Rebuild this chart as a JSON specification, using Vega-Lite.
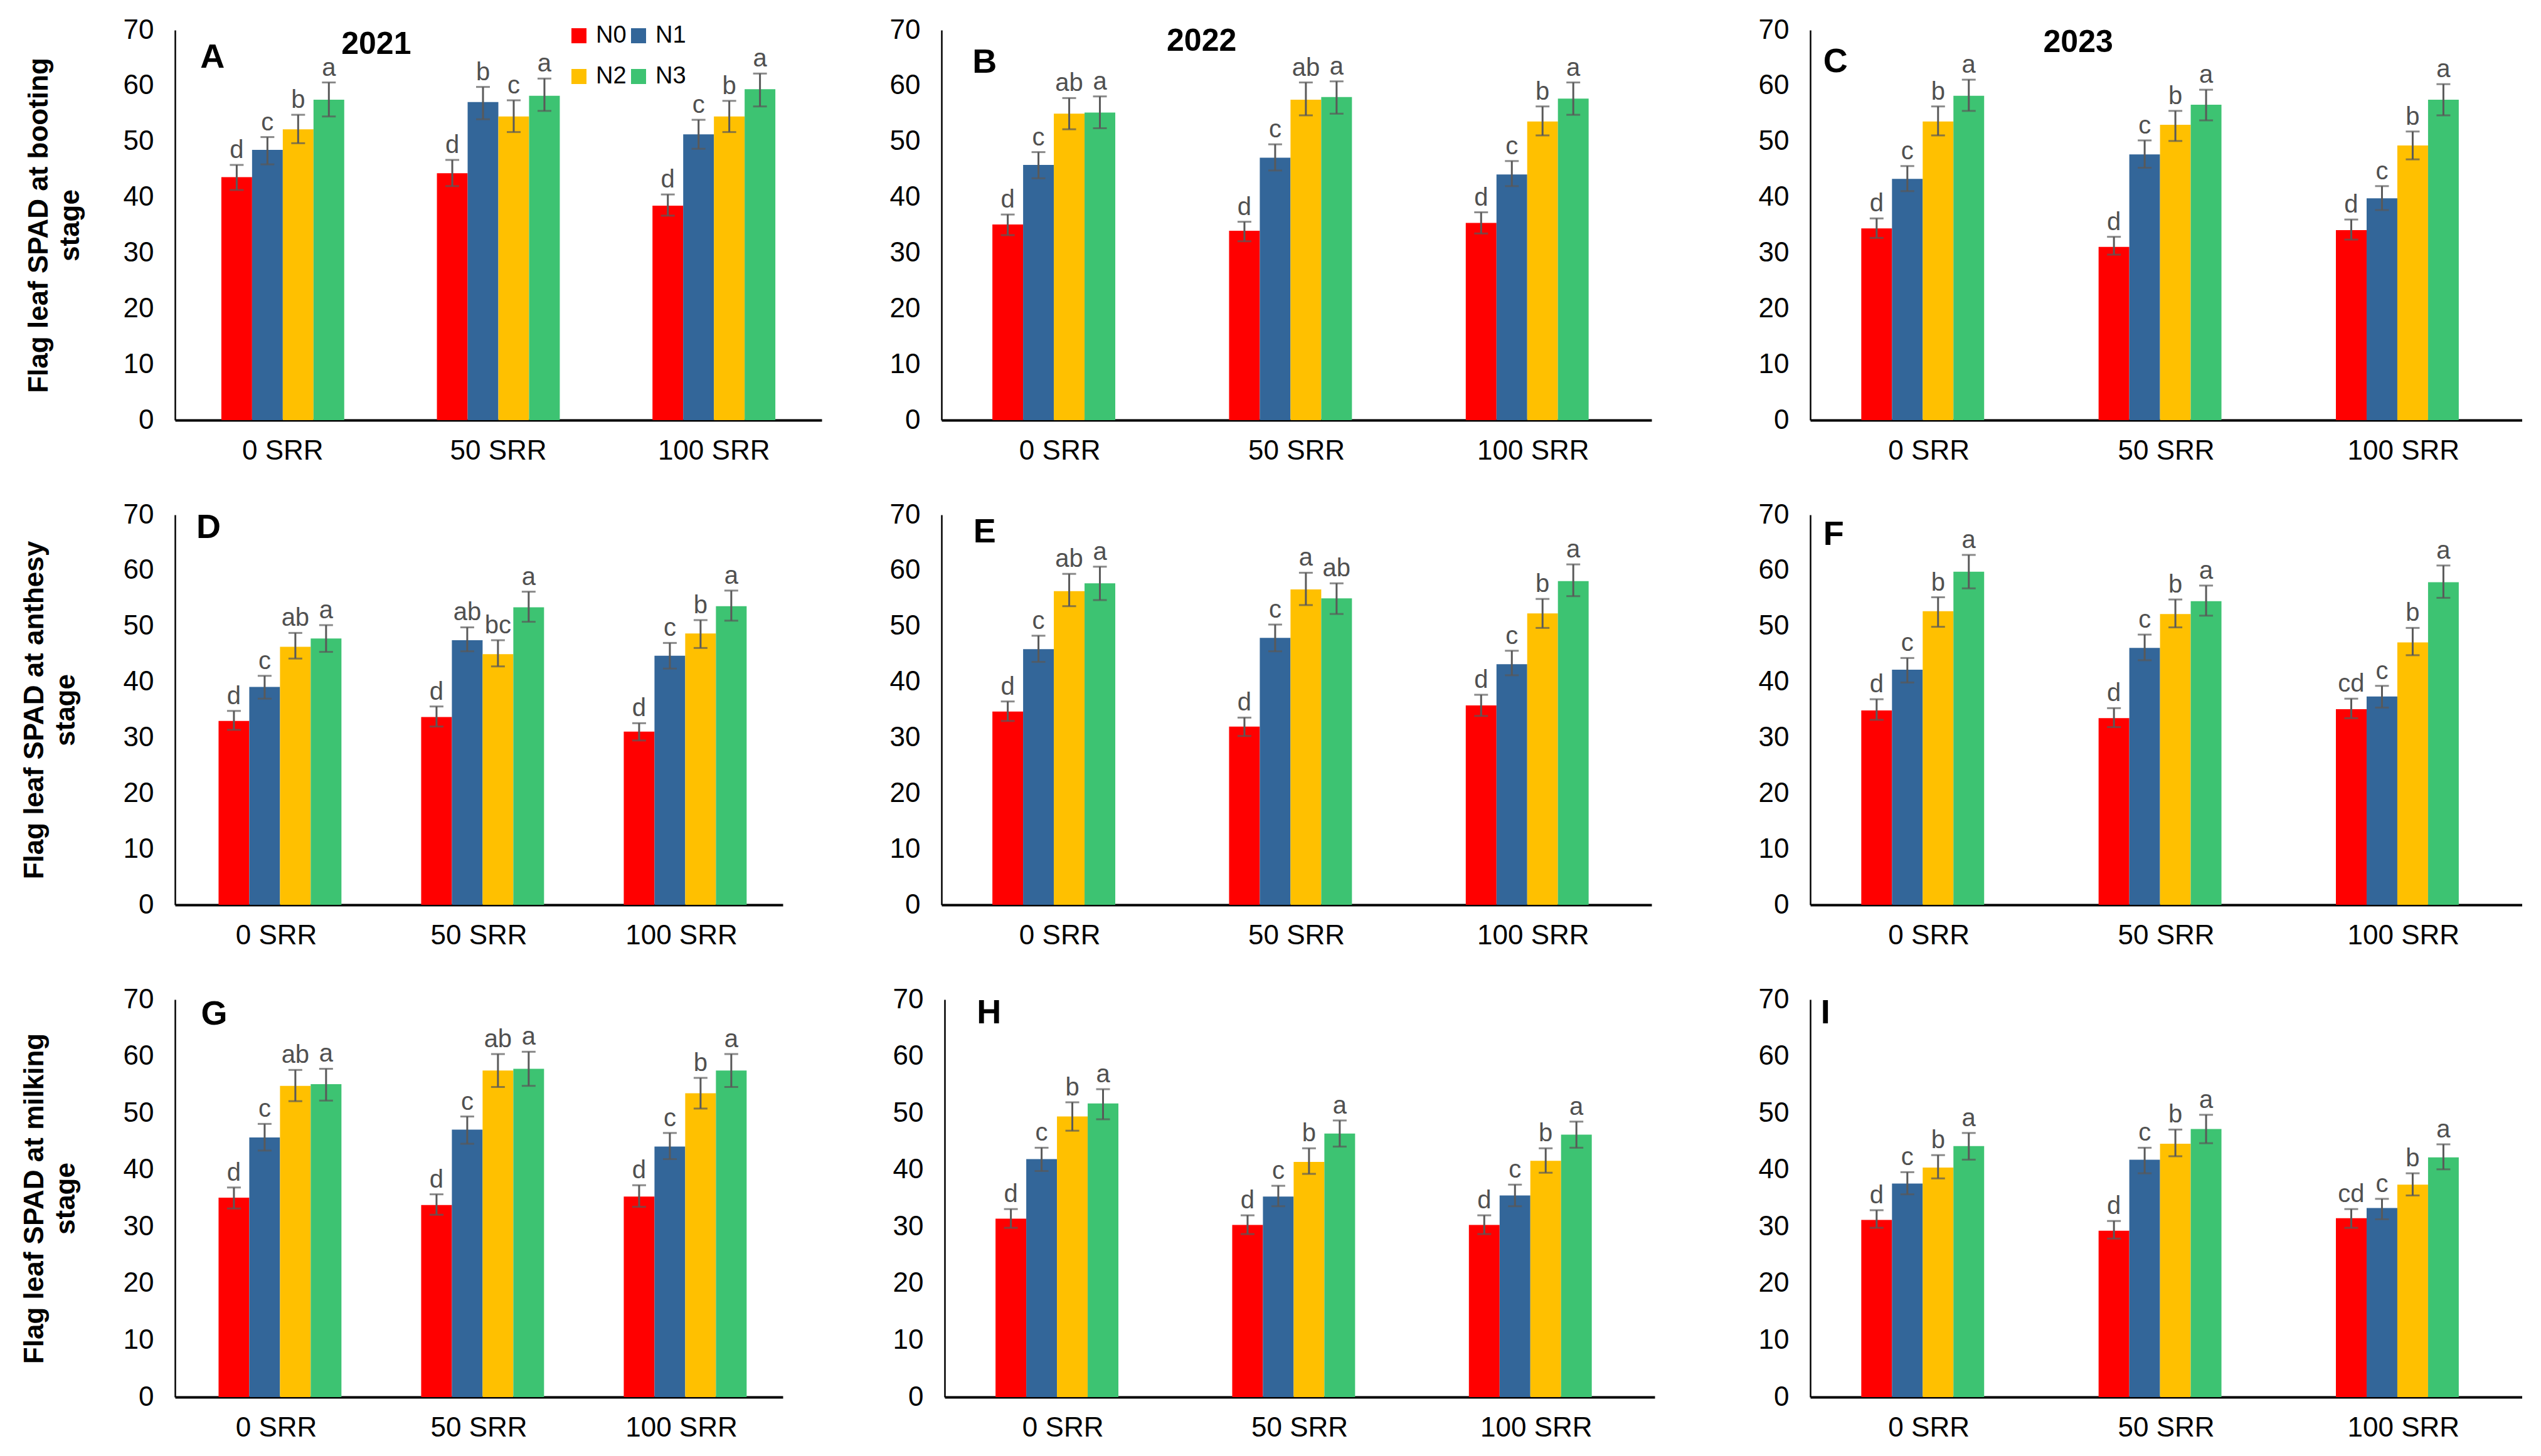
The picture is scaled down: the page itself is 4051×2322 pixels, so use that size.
{
"$schema": "https://vega.github.io/schema/vega-lite/v6.json",
"background": "white",
"padding": {"left": 33, "top": 26, "right": 0, "bottom": 0},
"datasets": {
"d": [
{"panel":"A","srr":"0 SRR","n":"N0","value":43.6,"lo":41.3,"hi":45.8,"sig":"d"},
{"panel":"A","srr":"0 SRR","n":"N1","value":48.5,"lo":45.9,"hi":50.8,"sig":"c"},
{"panel":"A","srr":"0 SRR","n":"N2","value":52.2,"lo":49.7,"hi":54.8,"sig":"b"},
{"panel":"A","srr":"0 SRR","n":"N3","value":57.5,"lo":54.5,"hi":60.6,"sig":"a"},
{"panel":"A","srr":"50 SRR","n":"N0","value":44.3,"lo":42.0,"hi":46.7,"sig":"d"},
{"panel":"A","srr":"50 SRR","n":"N1","value":57.1,"lo":54.0,"hi":59.8,"sig":"b"},
{"panel":"A","srr":"50 SRR","n":"N2","value":54.5,"lo":51.7,"hi":57.4,"sig":"c"},
{"panel":"A","srr":"50 SRR","n":"N3","value":58.2,"lo":55.5,"hi":61.3,"sig":"a"},
{"panel":"A","srr":"100 SRR","n":"N0","value":38.5,"lo":36.7,"hi":40.5,"sig":"d"},
{"panel":"A","srr":"100 SRR","n":"N1","value":51.3,"lo":48.7,"hi":53.9,"sig":"c"},
{"panel":"A","srr":"100 SRR","n":"N2","value":54.5,"lo":51.7,"hi":57.3,"sig":"b"},
{"panel":"A","srr":"100 SRR","n":"N3","value":59.4,"lo":56.3,"hi":62.2,"sig":"a"},
{"panel":"B","srr":"0 SRR","n":"N0","value":35.1,"lo":33.2,"hi":36.9,"sig":"d"},
{"panel":"B","srr":"0 SRR","n":"N1","value":45.8,"lo":43.4,"hi":48.1,"sig":"c"},
{"panel":"B","srr":"0 SRR","n":"N2","value":55.0,"lo":52.2,"hi":57.8,"sig":"ab"},
{"panel":"B","srr":"0 SRR","n":"N3","value":55.2,"lo":52.4,"hi":58.1,"sig":"a"},
{"panel":"B","srr":"50 SRR","n":"N0","value":34.0,"lo":32.1,"hi":35.6,"sig":"d"},
{"panel":"B","srr":"50 SRR","n":"N1","value":47.1,"lo":44.8,"hi":49.5,"sig":"c"},
{"panel":"B","srr":"50 SRR","n":"N2","value":57.5,"lo":54.7,"hi":60.6,"sig":"ab"},
{"panel":"B","srr":"50 SRR","n":"N3","value":58.0,"lo":55.0,"hi":60.8,"sig":"a"},
{"panel":"B","srr":"100 SRR","n":"N0","value":35.4,"lo":33.5,"hi":37.3,"sig":"d"},
{"panel":"B","srr":"100 SRR","n":"N1","value":44.1,"lo":42.0,"hi":46.5,"sig":"c"},
{"panel":"B","srr":"100 SRR","n":"N2","value":53.6,"lo":51.1,"hi":56.3,"sig":"b"},
{"panel":"B","srr":"100 SRR","n":"N3","value":57.7,"lo":54.8,"hi":60.6,"sig":"a"},
{"panel":"C","srr":"0 SRR","n":"N0","value":34.4,"lo":32.7,"hi":36.2,"sig":"d"},
{"panel":"C","srr":"0 SRR","n":"N1","value":43.3,"lo":41.1,"hi":45.6,"sig":"c"},
{"panel":"C","srr":"0 SRR","n":"N2","value":53.6,"lo":51.1,"hi":56.3,"sig":"b"},
{"panel":"C","srr":"0 SRR","n":"N3","value":58.2,"lo":55.5,"hi":61.1,"sig":"a"},
{"panel":"C","srr":"50 SRR","n":"N0","value":31.1,"lo":29.7,"hi":32.9,"sig":"d"},
{"panel":"C","srr":"50 SRR","n":"N1","value":47.7,"lo":45.3,"hi":50.2,"sig":"c"},
{"panel":"C","srr":"50 SRR","n":"N2","value":53.0,"lo":50.1,"hi":55.5,"sig":"b"},
{"panel":"C","srr":"50 SRR","n":"N3","value":56.6,"lo":53.8,"hi":59.3,"sig":"a"},
{"panel":"C","srr":"100 SRR","n":"N0","value":34.1,"lo":32.4,"hi":36.0,"sig":"d"},
{"panel":"C","srr":"100 SRR","n":"N1","value":39.8,"lo":37.7,"hi":42.0,"sig":"c"},
{"panel":"C","srr":"100 SRR","n":"N2","value":49.3,"lo":46.8,"hi":51.8,"sig":"b"},
{"panel":"C","srr":"100 SRR","n":"N3","value":57.5,"lo":54.7,"hi":60.3,"sig":"a"},
{"panel":"D","srr":"0 SRR","n":"N0","value":33.0,"lo":31.4,"hi":34.8,"sig":"d"},
{"panel":"D","srr":"0 SRR","n":"N1","value":39.1,"lo":37.0,"hi":41.1,"sig":"c"},
{"panel":"D","srr":"0 SRR","n":"N2","value":46.3,"lo":44.2,"hi":48.8,"sig":"ab"},
{"panel":"D","srr":"0 SRR","n":"N3","value":47.8,"lo":45.4,"hi":50.2,"sig":"a"},
{"panel":"D","srr":"50 SRR","n":"N0","value":33.7,"lo":32.0,"hi":35.6,"sig":"d"},
{"panel":"D","srr":"50 SRR","n":"N1","value":47.5,"lo":45.5,"hi":49.8,"sig":"ab"},
{"panel":"D","srr":"50 SRR","n":"N2","value":45.0,"lo":42.8,"hi":47.5,"sig":"bc"},
{"panel":"D","srr":"50 SRR","n":"N3","value":53.4,"lo":50.8,"hi":56.2,"sig":"a"},
{"panel":"D","srr":"100 SRR","n":"N0","value":31.1,"lo":29.5,"hi":32.6,"sig":"d"},
{"panel":"D","srr":"100 SRR","n":"N1","value":44.7,"lo":42.4,"hi":47.0,"sig":"c"},
{"panel":"D","srr":"100 SRR","n":"N2","value":48.7,"lo":46.1,"hi":51.1,"sig":"b"},
{"panel":"D","srr":"100 SRR","n":"N3","value":53.6,"lo":51.0,"hi":56.4,"sig":"a"},
{"panel":"E","srr":"0 SRR","n":"N0","value":34.7,"lo":33.0,"hi":36.5,"sig":"d"},
{"panel":"E","srr":"0 SRR","n":"N1","value":45.9,"lo":43.6,"hi":48.3,"sig":"c"},
{"panel":"E","srr":"0 SRR","n":"N2","value":56.3,"lo":53.6,"hi":59.4,"sig":"ab"},
{"panel":"E","srr":"0 SRR","n":"N3","value":57.7,"lo":54.7,"hi":60.7,"sig":"a"},
{"panel":"E","srr":"50 SRR","n":"N0","value":32.0,"lo":30.3,"hi":33.6,"sig":"d"},
{"panel":"E","srr":"50 SRR","n":"N1","value":47.9,"lo":45.5,"hi":50.3,"sig":"c"},
{"panel":"E","srr":"50 SRR","n":"N2","value":56.6,"lo":53.8,"hi":59.6,"sig":"a"},
{"panel":"E","srr":"50 SRR","n":"N3","value":55.0,"lo":52.2,"hi":57.7,"sig":"ab"},
{"panel":"E","srr":"100 SRR","n":"N0","value":35.8,"lo":33.9,"hi":37.7,"sig":"d"},
{"panel":"E","srr":"100 SRR","n":"N1","value":43.2,"lo":41.2,"hi":45.6,"sig":"c"},
{"panel":"E","srr":"100 SRR","n":"N2","value":52.3,"lo":49.7,"hi":54.9,"sig":"b"},
{"panel":"E","srr":"100 SRR","n":"N3","value":58.1,"lo":55.4,"hi":61.1,"sig":"a"},
{"panel":"F","srr":"0 SRR","n":"N0","value":34.9,"lo":33.2,"hi":36.9,"sig":"d"},
{"panel":"F","srr":"0 SRR","n":"N1","value":42.2,"lo":39.9,"hi":44.3,"sig":"c"},
{"panel":"F","srr":"0 SRR","n":"N2","value":52.7,"lo":49.9,"hi":55.2,"sig":"b"},
{"panel":"F","srr":"0 SRR","n":"N3","value":59.8,"lo":56.8,"hi":62.8,"sig":"a"},
{"panel":"F","srr":"50 SRR","n":"N0","value":33.5,"lo":31.9,"hi":35.3,"sig":"d"},
{"panel":"F","srr":"50 SRR","n":"N1","value":46.1,"lo":43.9,"hi":48.5,"sig":"c"},
{"panel":"F","srr":"50 SRR","n":"N2","value":52.2,"lo":49.8,"hi":54.8,"sig":"b"},
{"panel":"F","srr":"50 SRR","n":"N3","value":54.5,"lo":51.9,"hi":57.3,"sig":"a"},
{"panel":"F","srr":"100 SRR","n":"N0","value":35.1,"lo":33.5,"hi":37.0,"sig":"cd"},
{"panel":"F","srr":"100 SRR","n":"N1","value":37.4,"lo":35.4,"hi":39.3,"sig":"c"},
{"panel":"F","srr":"100 SRR","n":"N2","value":47.1,"lo":44.8,"hi":49.7,"sig":"b"},
{"panel":"F","srr":"100 SRR","n":"N3","value":57.9,"lo":55.1,"hi":60.9,"sig":"a"},
{"panel":"G","srr":"0 SRR","n":"N0","value":35.1,"lo":33.2,"hi":36.9,"sig":"d"},
{"panel":"G","srr":"0 SRR","n":"N1","value":45.7,"lo":43.4,"hi":48.1,"sig":"c"},
{"panel":"G","srr":"0 SRR","n":"N2","value":54.8,"lo":52.1,"hi":57.6,"sig":"ab"},
{"panel":"G","srr":"0 SRR","n":"N3","value":55.1,"lo":52.2,"hi":57.8,"sig":"a"},
{"panel":"G","srr":"50 SRR","n":"N0","value":33.8,"lo":32.1,"hi":35.7,"sig":"d"},
{"panel":"G","srr":"50 SRR","n":"N1","value":47.1,"lo":44.6,"hi":49.4,"sig":"c"},
{"panel":"G","srr":"50 SRR","n":"N2","value":57.5,"lo":54.6,"hi":60.4,"sig":"ab"},
{"panel":"G","srr":"50 SRR","n":"N3","value":57.8,"lo":54.8,"hi":60.8,"sig":"a"},
{"panel":"G","srr":"100 SRR","n":"N0","value":35.3,"lo":33.5,"hi":37.3,"sig":"d"},
{"panel":"G","srr":"100 SRR","n":"N1","value":44.1,"lo":41.9,"hi":46.5,"sig":"c"},
{"panel":"G","srr":"100 SRR","n":"N2","value":53.5,"lo":50.8,"hi":56.2,"sig":"b"},
{"panel":"G","srr":"100 SRR","n":"N3","value":57.5,"lo":54.6,"hi":60.4,"sig":"a"},
{"panel":"H","srr":"0 SRR","n":"N0","value":31.4,"lo":29.8,"hi":33.1,"sig":"d"},
{"panel":"H","srr":"0 SRR","n":"N1","value":41.9,"lo":39.8,"hi":43.9,"sig":"c"},
{"panel":"H","srr":"0 SRR","n":"N2","value":49.4,"lo":46.9,"hi":51.9,"sig":"b"},
{"panel":"H","srr":"0 SRR","n":"N3","value":51.7,"lo":48.9,"hi":54.2,"sig":"a"},
{"panel":"H","srr":"50 SRR","n":"N0","value":30.3,"lo":28.7,"hi":32.0,"sig":"d"},
{"panel":"H","srr":"50 SRR","n":"N1","value":35.3,"lo":33.6,"hi":37.2,"sig":"c"},
{"panel":"H","srr":"50 SRR","n":"N2","value":41.4,"lo":39.3,"hi":43.8,"sig":"b"},
{"panel":"H","srr":"50 SRR","n":"N3","value":46.4,"lo":44.1,"hi":48.7,"sig":"a"},
{"panel":"H","srr":"100 SRR","n":"N0","value":30.3,"lo":28.7,"hi":32.0,"sig":"d"},
{"panel":"H","srr":"100 SRR","n":"N1","value":35.5,"lo":33.6,"hi":37.4,"sig":"c"},
{"panel":"H","srr":"100 SRR","n":"N2","value":41.6,"lo":39.5,"hi":43.8,"sig":"b"},
{"panel":"H","srr":"100 SRR","n":"N3","value":46.2,"lo":43.9,"hi":48.5,"sig":"a"},
{"panel":"I","srr":"0 SRR","n":"N0","value":31.2,"lo":29.8,"hi":32.9,"sig":"d"},
{"panel":"I","srr":"0 SRR","n":"N1","value":37.6,"lo":35.7,"hi":39.6,"sig":"c"},
{"panel":"I","srr":"0 SRR","n":"N2","value":40.4,"lo":38.5,"hi":42.6,"sig":"b"},
{"panel":"I","srr":"0 SRR","n":"N3","value":44.2,"lo":41.8,"hi":46.5,"sig":"a"},
{"panel":"I","srr":"50 SRR","n":"N0","value":29.3,"lo":27.9,"hi":31.0,"sig":"d"},
{"panel":"I","srr":"50 SRR","n":"N1","value":41.8,"lo":39.4,"hi":43.9,"sig":"c"},
{"panel":"I","srr":"50 SRR","n":"N2","value":44.6,"lo":42.4,"hi":47.1,"sig":"b"},
{"panel":"I","srr":"50 SRR","n":"N3","value":47.2,"lo":44.7,"hi":49.7,"sig":"a"},
{"panel":"I","srr":"100 SRR","n":"N0","value":31.5,"lo":29.8,"hi":33.1,"sig":"cd"},
{"panel":"I","srr":"100 SRR","n":"N1","value":33.3,"lo":31.3,"hi":34.9,"sig":"c"},
{"panel":"I","srr":"100 SRR","n":"N2","value":37.4,"lo":35.5,"hi":39.4,"sig":"b"},
{"panel":"I","srr":"100 SRR","n":"N3","value":42.2,"lo":40.1,"hi":44.5,"sig":"a"}
]
},
"config": {
"view": {"stroke": null},
"font": "Liberation Sans",
"axis": {"grid": false, "ticks": false, "labelFont": "Liberation Sans", "labelFontSize": 44, "labelColor": "black", "domainColor": "black", "titleFont": "Liberation Sans", "titleFontWeight": "bold", "titleFontSize": 44, "titleColor": "black", "titleLineHeight": 50},
"axisX": {"domainWidth": 4, "labelPadding": 27, "labelAngle": 0},
"axisY": {"domainWidth": 2.5, "labelPadding": 34}
},
"columns": 1,
"align": "none",
"spacing": 58,
"concat": [
{"hconcat": [
{"width": 1031, "height": 622, "layer": [
{"data": {"name": "d"}, "transform": [{"filter": "datum.panel === 'A'"}],
"encoding": {"x": {"field": "srr", "type": "nominal", "scale": {"domain": ["0 SRR","50 SRR","100 SRR"], "paddingInner": 0.43, "paddingOuter": 0.215}, "axis": {"title": null}}, "xOffset": {"field": "n", "type": "nominal", "scale": {"domain": ["N0","N1","N2","N3"], "paddingInner": 0, "paddingOuter": 0}}},
"layer": [
{"mark": {"type": "bar"}, "encoding": {"y": {"field": "value", "type": "quantitative", "title": ["Flag leaf SPAD  at booting", "stage"], "scale": {"domain": [0, 70], "nice": false}, "axis": {"values": [0,10,20,30,40,50,60,70], "titlePadding": 62}}, "color": {"field": "n", "type": "nominal", "scale": {"domain": ["N0","N1","N2","N3"], "range": ["#FF0000","#336699","#FFC000","#3DC372"]}, "legend": {"title": null, "orient": "none", "legendX": 625, "legendY": -10, "columns": 2, "direction": "horizontal", "symbolType": "square", "symbolSize": 576, "symbolStrokeWidth": 0, "labelFontSize": 38, "labelFont": "Liberation Sans", "labelColor": "black", "columnPadding": 0, "rowPadding": 27, "labelOffset": 8, "padding": 0}}}},
{"mark": {"type": "rule", "color": "#595959", "strokeWidth": 3}, "encoding": {"y": {"field": "lo", "type": "quantitative", "title": ["Flag leaf SPAD  at booting", "stage"]}, "y2": {"field": "hi"}}},
{"mark": {"type": "tick", "color": "#595959", "thickness": 3, "size": 22, "orient": "horizontal"}, "encoding": {"y": {"field": "hi", "type": "quantitative", "title": ["Flag leaf SPAD  at booting", "stage"]}}},
{"mark": {"type": "tick", "color": "#595959", "thickness": 3, "size": 22, "orient": "horizontal"}, "encoding": {"y": {"field": "lo", "type": "quantitative", "title": ["Flag leaf SPAD  at booting", "stage"]}}},
{"mark": {"type": "text", "baseline": "bottom", "dy": -3, "fontSize": 40, "color": "#505050"}, "encoding": {"y": {"field": "hi", "type": "quantitative", "title": ["Flag leaf SPAD  at booting", "stage"]}, "text": {"field": "sig"}}}
]},
{"data": {"values": [{"tag": "A"}]}, "mark": {"type": "text", "fontSize": 54, "fontWeight": "bold", "dx": -112, "baseline": "middle", "align": "center", "color": "black"}, "encoding": {"x": {"datum": "0 SRR", "type": "nominal"}, "y": {"datum": 65, "type": "quantitative"}, "text": {"field": "tag"}}},
{"data": {"values": [{"year": "2021"}]}, "mark": {"type": "text", "fontSize": 50, "fontWeight": "bold", "dx": 149, "baseline": "middle", "align": "center", "color": "black"}, "encoding": {"x": {"datum": "0 SRR", "type": "nominal"}, "y": {"datum": 67.4, "type": "quantitative"}, "text": {"field": "year"}}}
]},
{"hconcat": [
{"width": 1132, "height": 622, "layer": [
{"data": {"name": "d"}, "transform": [{"filter": "datum.panel === 'B'"}],
"encoding": {"x": {"field": "srr", "type": "nominal", "scale": {"domain": ["0 SRR","50 SRR","100 SRR"], "paddingInner": 0.43, "paddingOuter": 0.215}, "axis": {"title": null}}, "xOffset": {"field": "n", "type": "nominal", "scale": {"domain": ["N0","N1","N2","N3"], "paddingInner": 0, "paddingOuter": 0}}},
"layer": [
{"mark": {"type": "bar"}, "encoding": {"y": {"field": "value", "type": "quantitative", "title": null, "scale": {"domain": [0, 70], "nice": false}, "axis": {"values": [0,10,20,30,40,50,60,70]}}, "color": {"field": "n", "type": "nominal", "scale": {"domain": ["N0","N1","N2","N3"], "range": ["#FF0000","#336699","#FFC000","#3DC372"]}, "legend": {"title": null, "orient": "none", "legendX": 625, "legendY": -10, "columns": 2, "direction": "horizontal", "symbolType": "square", "symbolSize": 576, "symbolStrokeWidth": 0, "labelFontSize": 38, "labelFont": "Liberation Sans", "labelColor": "black", "columnPadding": 0, "rowPadding": 27, "labelOffset": 8, "padding": 0}}}},
{"mark": {"type": "rule", "color": "#595959", "strokeWidth": 3}, "encoding": {"y": {"field": "lo", "type": "quantitative", "title": null}, "y2": {"field": "hi"}}},
{"mark": {"type": "tick", "color": "#595959", "thickness": 3, "size": 22, "orient": "horizontal"}, "encoding": {"y": {"field": "hi", "type": "quantitative", "title": null}}},
{"mark": {"type": "tick", "color": "#595959", "thickness": 3, "size": 22, "orient": "horizontal"}, "encoding": {"y": {"field": "lo", "type": "quantitative", "title": null}}},
{"mark": {"type": "text", "baseline": "bottom", "dy": -3, "fontSize": 40, "color": "#505050"}, "encoding": {"y": {"field": "hi", "type": "quantitative", "title": null}, "text": {"field": "sig"}}}
]},
{"data": {"values": [{"tag": "B"}]}, "mark": {"type": "text", "fontSize": 54, "fontWeight": "bold", "dx": -120, "baseline": "middle", "align": "center", "color": "black"}, "encoding": {"x": {"datum": "0 SRR", "type": "nominal"}, "y": {"datum": 64.2, "type": "quantitative"}, "text": {"field": "tag"}}},
{"data": {"values": [{"year": "2022"}]}, "mark": {"type": "text", "fontSize": 50, "fontWeight": "bold", "dx": 226, "baseline": "middle", "align": "center", "color": "black"}, "encoding": {"x": {"datum": "0 SRR", "type": "nominal"}, "y": {"datum": 68, "type": "quantitative"}, "text": {"field": "year"}}}
]},
{"width": 1135, "height": 622, "layer": [
{"data": {"name": "d"}, "transform": [{"filter": "datum.panel === 'C'"}],
"encoding": {"x": {"field": "srr", "type": "nominal", "scale": {"domain": ["0 SRR","50 SRR","100 SRR"], "paddingInner": 0.43, "paddingOuter": 0.215}, "axis": {"title": null}}, "xOffset": {"field": "n", "type": "nominal", "scale": {"domain": ["N0","N1","N2","N3"], "paddingInner": 0, "paddingOuter": 0}}},
"layer": [
{"mark": {"type": "bar"}, "encoding": {"y": {"field": "value", "type": "quantitative", "title": null, "scale": {"domain": [0, 70], "nice": false}, "axis": {"values": [0,10,20,30,40,50,60,70]}}, "color": {"field": "n", "type": "nominal", "scale": {"domain": ["N0","N1","N2","N3"], "range": ["#FF0000","#336699","#FFC000","#3DC372"]}, "legend": {"title": null, "orient": "none", "legendX": 625, "legendY": -10, "columns": 2, "direction": "horizontal", "symbolType": "square", "symbolSize": 576, "symbolStrokeWidth": 0, "labelFontSize": 38, "labelFont": "Liberation Sans", "labelColor": "black", "columnPadding": 0, "rowPadding": 27, "labelOffset": 8, "padding": 0}}}},
{"mark": {"type": "rule", "color": "#595959", "strokeWidth": 3}, "encoding": {"y": {"field": "lo", "type": "quantitative", "title": null}, "y2": {"field": "hi"}}},
{"mark": {"type": "tick", "color": "#595959", "thickness": 3, "size": 22, "orient": "horizontal"}, "encoding": {"y": {"field": "hi", "type": "quantitative", "title": null}}},
{"mark": {"type": "tick", "color": "#595959", "thickness": 3, "size": 22, "orient": "horizontal"}, "encoding": {"y": {"field": "lo", "type": "quantitative", "title": null}}},
{"mark": {"type": "text", "baseline": "bottom", "dy": -3, "fontSize": 40, "color": "#505050"}, "encoding": {"y": {"field": "hi", "type": "quantitative", "title": null}, "text": {"field": "sig"}}}
]},
{"data": {"values": [{"tag": "C"}]}, "mark": {"type": "text", "fontSize": 54, "fontWeight": "bold", "dx": -149, "baseline": "middle", "align": "center", "color": "black"}, "encoding": {"x": {"datum": "0 SRR", "type": "nominal"}, "y": {"datum": 64.3, "type": "quantitative"}, "text": {"field": "tag"}}},
{"data": {"values": [{"year": "2023"}]}, "mark": {"type": "text", "fontSize": 50, "fontWeight": "bold", "dx": 238, "baseline": "middle", "align": "center", "color": "black"}, "encoding": {"x": {"datum": "0 SRR", "type": "nominal"}, "y": {"datum": 67.8, "type": "quantitative"}, "text": {"field": "year"}}}
]}
], "spacing": 170}
], "spacing": 108},
{"hconcat": [
{"width": 969, "height": 622, "layer": [
{"data": {"name": "d"}, "transform": [{"filter": "datum.panel === 'D'"}],
"encoding": {"x": {"field": "srr", "type": "nominal", "scale": {"domain": ["0 SRR","50 SRR","100 SRR"], "paddingInner": 0.43, "paddingOuter": 0.215}, "axis": {"title": null}}, "xOffset": {"field": "n", "type": "nominal", "scale": {"domain": ["N0","N1","N2","N3"], "paddingInner": 0, "paddingOuter": 0}}},
"layer": [
{"mark": {"type": "bar"}, "encoding": {"y": {"field": "value", "type": "quantitative", "title": ["Flag leaf SPAD  at anthesy", "stage"], "scale": {"domain": [0, 70], "nice": false}, "axis": {"values": [0,10,20,30,40,50,60,70], "titlePadding": 69}}, "color": {"field": "n", "type": "nominal", "scale": {"domain": ["N0","N1","N2","N3"], "range": ["#FF0000","#336699","#FFC000","#3DC372"]}, "legend": {"title": null, "orient": "none", "legendX": 625, "legendY": -10, "columns": 2, "direction": "horizontal", "symbolType": "square", "symbolSize": 576, "symbolStrokeWidth": 0, "labelFontSize": 38, "labelFont": "Liberation Sans", "labelColor": "black", "columnPadding": 0, "rowPadding": 27, "labelOffset": 8, "padding": 0}}}},
{"mark": {"type": "rule", "color": "#595959", "strokeWidth": 3}, "encoding": {"y": {"field": "lo", "type": "quantitative", "title": ["Flag leaf SPAD  at anthesy", "stage"]}, "y2": {"field": "hi"}}},
{"mark": {"type": "tick", "color": "#595959", "thickness": 3, "size": 22, "orient": "horizontal"}, "encoding": {"y": {"field": "hi", "type": "quantitative", "title": ["Flag leaf SPAD  at anthesy", "stage"]}}},
{"mark": {"type": "tick", "color": "#595959", "thickness": 3, "size": 22, "orient": "horizontal"}, "encoding": {"y": {"field": "lo", "type": "quantitative", "title": ["Flag leaf SPAD  at anthesy", "stage"]}}},
{"mark": {"type": "text", "baseline": "bottom", "dy": -3, "fontSize": 40, "color": "#505050"}, "encoding": {"y": {"field": "hi", "type": "quantitative", "title": ["Flag leaf SPAD  at anthesy", "stage"]}, "text": {"field": "sig"}}}
]},
{"data": {"values": [{"tag": "D"}]}, "mark": {"type": "text", "fontSize": 54, "fontWeight": "bold", "dx": -108, "baseline": "middle", "align": "center", "color": "black"}, "encoding": {"x": {"datum": "0 SRR", "type": "nominal"}, "y": {"datum": 67.6, "type": "quantitative"}, "text": {"field": "tag"}}}
]},
{"hconcat": [
{"width": 1132, "height": 622, "layer": [
{"data": {"name": "d"}, "transform": [{"filter": "datum.panel === 'E'"}],
"encoding": {"x": {"field": "srr", "type": "nominal", "scale": {"domain": ["0 SRR","50 SRR","100 SRR"], "paddingInner": 0.43, "paddingOuter": 0.215}, "axis": {"title": null}}, "xOffset": {"field": "n", "type": "nominal", "scale": {"domain": ["N0","N1","N2","N3"], "paddingInner": 0, "paddingOuter": 0}}},
"layer": [
{"mark": {"type": "bar"}, "encoding": {"y": {"field": "value", "type": "quantitative", "title": null, "scale": {"domain": [0, 70], "nice": false}, "axis": {"values": [0,10,20,30,40,50,60,70]}}, "color": {"field": "n", "type": "nominal", "scale": {"domain": ["N0","N1","N2","N3"], "range": ["#FF0000","#336699","#FFC000","#3DC372"]}, "legend": {"title": null, "orient": "none", "legendX": 625, "legendY": -10, "columns": 2, "direction": "horizontal", "symbolType": "square", "symbolSize": 576, "symbolStrokeWidth": 0, "labelFontSize": 38, "labelFont": "Liberation Sans", "labelColor": "black", "columnPadding": 0, "rowPadding": 27, "labelOffset": 8, "padding": 0}}}},
{"mark": {"type": "rule", "color": "#595959", "strokeWidth": 3}, "encoding": {"y": {"field": "lo", "type": "quantitative", "title": null}, "y2": {"field": "hi"}}},
{"mark": {"type": "tick", "color": "#595959", "thickness": 3, "size": 22, "orient": "horizontal"}, "encoding": {"y": {"field": "hi", "type": "quantitative", "title": null}}},
{"mark": {"type": "tick", "color": "#595959", "thickness": 3, "size": 22, "orient": "horizontal"}, "encoding": {"y": {"field": "lo", "type": "quantitative", "title": null}}},
{"mark": {"type": "text", "baseline": "bottom", "dy": -3, "fontSize": 40, "color": "#505050"}, "encoding": {"y": {"field": "hi", "type": "quantitative", "title": null}, "text": {"field": "sig"}}}
]},
{"data": {"values": [{"tag": "E"}]}, "mark": {"type": "text", "fontSize": 54, "fontWeight": "bold", "dx": -120, "baseline": "middle", "align": "center", "color": "black"}, "encoding": {"x": {"datum": "0 SRR", "type": "nominal"}, "y": {"datum": 66.8, "type": "quantitative"}, "text": {"field": "tag"}}}
]},
{"width": 1135, "height": 622, "layer": [
{"data": {"name": "d"}, "transform": [{"filter": "datum.panel === 'F'"}],
"encoding": {"x": {"field": "srr", "type": "nominal", "scale": {"domain": ["0 SRR","50 SRR","100 SRR"], "paddingInner": 0.43, "paddingOuter": 0.215}, "axis": {"title": null}}, "xOffset": {"field": "n", "type": "nominal", "scale": {"domain": ["N0","N1","N2","N3"], "paddingInner": 0, "paddingOuter": 0}}},
"layer": [
{"mark": {"type": "bar"}, "encoding": {"y": {"field": "value", "type": "quantitative", "title": null, "scale": {"domain": [0, 70], "nice": false}, "axis": {"values": [0,10,20,30,40,50,60,70]}}, "color": {"field": "n", "type": "nominal", "scale": {"domain": ["N0","N1","N2","N3"], "range": ["#FF0000","#336699","#FFC000","#3DC372"]}, "legend": {"title": null, "orient": "none", "legendX": 625, "legendY": -10, "columns": 2, "direction": "horizontal", "symbolType": "square", "symbolSize": 576, "symbolStrokeWidth": 0, "labelFontSize": 38, "labelFont": "Liberation Sans", "labelColor": "black", "columnPadding": 0, "rowPadding": 27, "labelOffset": 8, "padding": 0}}}},
{"mark": {"type": "rule", "color": "#595959", "strokeWidth": 3}, "encoding": {"y": {"field": "lo", "type": "quantitative", "title": null}, "y2": {"field": "hi"}}},
{"mark": {"type": "tick", "color": "#595959", "thickness": 3, "size": 22, "orient": "horizontal"}, "encoding": {"y": {"field": "hi", "type": "quantitative", "title": null}}},
{"mark": {"type": "tick", "color": "#595959", "thickness": 3, "size": 22, "orient": "horizontal"}, "encoding": {"y": {"field": "lo", "type": "quantitative", "title": null}}},
{"mark": {"type": "text", "baseline": "bottom", "dy": -3, "fontSize": 40, "color": "#505050"}, "encoding": {"y": {"field": "hi", "type": "quantitative", "title": null}, "text": {"field": "sig"}}}
]},
{"data": {"values": [{"tag": "F"}]}, "mark": {"type": "text", "fontSize": 54, "fontWeight": "bold", "dx": -152, "baseline": "middle", "align": "center", "color": "black"}, "encoding": {"x": {"datum": "0 SRR", "type": "nominal"}, "y": {"datum": 66.4, "type": "quantitative"}, "text": {"field": "tag"}}}
]}
], "spacing": 170}
], "spacing": 170},
{"hconcat": [
{"width": 969, "height": 634, "layer": [
{"data": {"name": "d"}, "transform": [{"filter": "datum.panel === 'G'"}],
"encoding": {"x": {"field": "srr", "type": "nominal", "scale": {"domain": ["0 SRR","50 SRR","100 SRR"], "paddingInner": 0.43, "paddingOuter": 0.215}, "axis": {"title": null}}, "xOffset": {"field": "n", "type": "nominal", "scale": {"domain": ["N0","N1","N2","N3"], "paddingInner": 0, "paddingOuter": 0}}},
"layer": [
{"mark": {"type": "bar"}, "encoding": {"y": {"field": "value", "type": "quantitative", "title": ["Flag leaf SPAD  at milking", "stage"], "scale": {"domain": [0, 70], "nice": false}, "axis": {"values": [0,10,20,30,40,50,60,70], "titlePadding": 69}}, "color": {"field": "n", "type": "nominal", "scale": {"domain": ["N0","N1","N2","N3"], "range": ["#FF0000","#336699","#FFC000","#3DC372"]}, "legend": {"title": null, "orient": "none", "legendX": 625, "legendY": -10, "columns": 2, "direction": "horizontal", "symbolType": "square", "symbolSize": 576, "symbolStrokeWidth": 0, "labelFontSize": 38, "labelFont": "Liberation Sans", "labelColor": "black", "columnPadding": 0, "rowPadding": 27, "labelOffset": 8, "padding": 0}}}},
{"mark": {"type": "rule", "color": "#595959", "strokeWidth": 3}, "encoding": {"y": {"field": "lo", "type": "quantitative", "title": ["Flag leaf SPAD  at milking", "stage"]}, "y2": {"field": "hi"}}},
{"mark": {"type": "tick", "color": "#595959", "thickness": 3, "size": 22, "orient": "horizontal"}, "encoding": {"y": {"field": "hi", "type": "quantitative", "title": ["Flag leaf SPAD  at milking", "stage"]}}},
{"mark": {"type": "tick", "color": "#595959", "thickness": 3, "size": 22, "orient": "horizontal"}, "encoding": {"y": {"field": "lo", "type": "quantitative", "title": ["Flag leaf SPAD  at milking", "stage"]}}},
{"mark": {"type": "text", "baseline": "bottom", "dy": -3, "fontSize": 40, "color": "#505050"}, "encoding": {"y": {"field": "hi", "type": "quantitative", "title": ["Flag leaf SPAD  at milking", "stage"]}, "text": {"field": "sig"}}}
]},
{"data": {"values": [{"tag": "G"}]}, "mark": {"type": "text", "fontSize": 54, "fontWeight": "bold", "dx": -99, "baseline": "middle", "align": "center", "color": "black"}, "encoding": {"x": {"datum": "0 SRR", "type": "nominal"}, "y": {"datum": 67.4, "type": "quantitative"}, "text": {"field": "tag"}}}
]},
{"hconcat": [
{"width": 1132, "height": 634, "layer": [
{"data": {"name": "d"}, "transform": [{"filter": "datum.panel === 'H'"}],
"encoding": {"x": {"field": "srr", "type": "nominal", "scale": {"domain": ["0 SRR","50 SRR","100 SRR"], "paddingInner": 0.43, "paddingOuter": 0.215}, "axis": {"title": null}}, "xOffset": {"field": "n", "type": "nominal", "scale": {"domain": ["N0","N1","N2","N3"], "paddingInner": 0, "paddingOuter": 0}}},
"layer": [
{"mark": {"type": "bar"}, "encoding": {"y": {"field": "value", "type": "quantitative", "title": null, "scale": {"domain": [0, 70], "nice": false}, "axis": {"values": [0,10,20,30,40,50,60,70]}}, "color": {"field": "n", "type": "nominal", "scale": {"domain": ["N0","N1","N2","N3"], "range": ["#FF0000","#336699","#FFC000","#3DC372"]}, "legend": {"title": null, "orient": "none", "legendX": 625, "legendY": -10, "columns": 2, "direction": "horizontal", "symbolType": "square", "symbolSize": 576, "symbolStrokeWidth": 0, "labelFontSize": 38, "labelFont": "Liberation Sans", "labelColor": "black", "columnPadding": 0, "rowPadding": 27, "labelOffset": 8, "padding": 0}}}},
{"mark": {"type": "rule", "color": "#595959", "strokeWidth": 3}, "encoding": {"y": {"field": "lo", "type": "quantitative", "title": null}, "y2": {"field": "hi"}}},
{"mark": {"type": "tick", "color": "#595959", "thickness": 3, "size": 22, "orient": "horizontal"}, "encoding": {"y": {"field": "hi", "type": "quantitative", "title": null}}},
{"mark": {"type": "tick", "color": "#595959", "thickness": 3, "size": 22, "orient": "horizontal"}, "encoding": {"y": {"field": "lo", "type": "quantitative", "title": null}}},
{"mark": {"type": "text", "baseline": "bottom", "dy": -3, "fontSize": 40, "color": "#505050"}, "encoding": {"y": {"field": "hi", "type": "quantitative", "title": null}, "text": {"field": "sig"}}}
]},
{"data": {"values": [{"tag": "H"}]}, "mark": {"type": "text", "fontSize": 54, "fontWeight": "bold", "dx": -118, "baseline": "middle", "align": "center", "color": "black"}, "encoding": {"x": {"datum": "0 SRR", "type": "nominal"}, "y": {"datum": 67.6, "type": "quantitative"}, "text": {"field": "tag"}}}
]},
{"width": 1135, "height": 634, "layer": [
{"data": {"name": "d"}, "transform": [{"filter": "datum.panel === 'I'"}],
"encoding": {"x": {"field": "srr", "type": "nominal", "scale": {"domain": ["0 SRR","50 SRR","100 SRR"], "paddingInner": 0.43, "paddingOuter": 0.215}, "axis": {"title": null}}, "xOffset": {"field": "n", "type": "nominal", "scale": {"domain": ["N0","N1","N2","N3"], "paddingInner": 0, "paddingOuter": 0}}},
"layer": [
{"mark": {"type": "bar"}, "encoding": {"y": {"field": "value", "type": "quantitative", "title": null, "scale": {"domain": [0, 70], "nice": false}, "axis": {"values": [0,10,20,30,40,50,60,70]}}, "color": {"field": "n", "type": "nominal", "scale": {"domain": ["N0","N1","N2","N3"], "range": ["#FF0000","#336699","#FFC000","#3DC372"]}, "legend": {"title": null, "orient": "none", "legendX": 625, "legendY": -10, "columns": 2, "direction": "horizontal", "symbolType": "square", "symbolSize": 576, "symbolStrokeWidth": 0, "labelFontSize": 38, "labelFont": "Liberation Sans", "labelColor": "black", "columnPadding": 0, "rowPadding": 27, "labelOffset": 8, "padding": 0}}}},
{"mark": {"type": "rule", "color": "#595959", "strokeWidth": 3}, "encoding": {"y": {"field": "lo", "type": "quantitative", "title": null}, "y2": {"field": "hi"}}},
{"mark": {"type": "tick", "color": "#595959", "thickness": 3, "size": 22, "orient": "horizontal"}, "encoding": {"y": {"field": "hi", "type": "quantitative", "title": null}}},
{"mark": {"type": "tick", "color": "#595959", "thickness": 3, "size": 22, "orient": "horizontal"}, "encoding": {"y": {"field": "lo", "type": "quantitative", "title": null}}},
{"mark": {"type": "text", "baseline": "bottom", "dy": -3, "fontSize": 40, "color": "#505050"}, "encoding": {"y": {"field": "hi", "type": "quantitative", "title": null}, "text": {"field": "sig"}}}
]},
{"data": {"values": [{"tag": "I"}]}, "mark": {"type": "text", "fontSize": 54, "fontWeight": "bold", "dx": -165, "baseline": "middle", "align": "center", "color": "black"}, "encoding": {"x": {"datum": "0 SRR", "type": "nominal"}, "y": {"datum": 67.6, "type": "quantitative"}, "text": {"field": "tag"}}}
]}
], "spacing": 165}
], "spacing": 175}
]
}
